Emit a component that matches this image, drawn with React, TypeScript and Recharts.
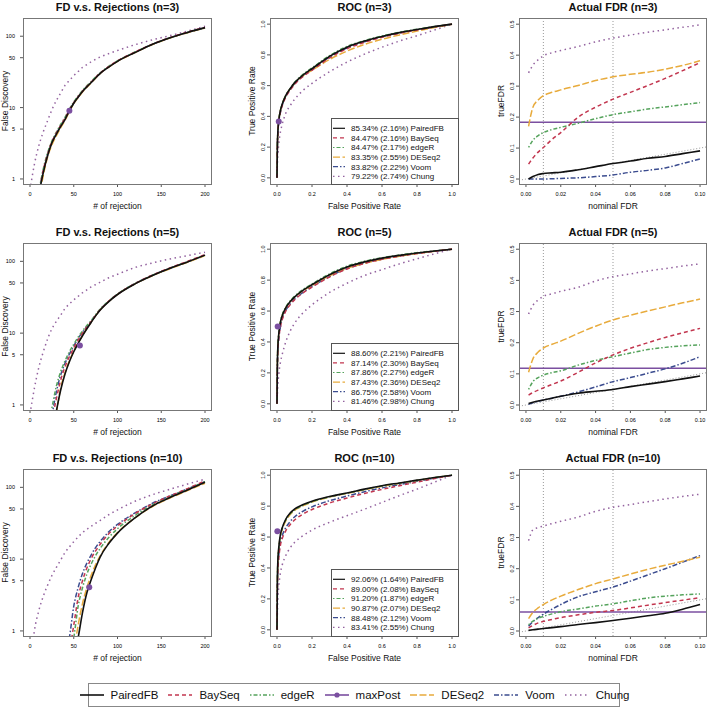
import React from 'react';
import { ComposedChart, Line, XAxis, YAxis, ReferenceLine, ReferenceDot } from 'recharts';

const FONT = "'Liberation Sans', Arial, Helvetica, sans-serif";

const methods = ['PairedFB', 'BaySeq', 'edgeR', 'DESeq2', 'Voom', 'Chung'];
const drawOrder = ['Chung', 'Voom', 'DESeq2', 'edgeR', 'BaySeq', 'PairedFB'];
const legendNames = ['PairedFB', 'BaySeq', 'edgeR', 'maxPost', 'DESeq2', 'Voom', 'Chung'];
const sampleSizes = [3, 5, 10];

const colors: Record<string, string> = {
  PairedFB: '#111111',
  BaySeq: '#c2364f',
  edgeR: '#55a35c',
  maxPost: '#7b4fa0',
  DESeq2: '#e8ab3c',
  Voom: '#3b4c8f',
  Chung: '#93629f',
};
const dashes: Record<string, string | undefined> = {
  PairedFB: undefined,
  BaySeq: '4 3',
  edgeR: '1.5 2 4 2',
  maxPost: undefined,
  DESeq2: '7 2.5',
  Voom: '5 2 1.5 2',
  Chung: '1.5 3.5',
};

type Series = Record<string, (number | null)[]>;

// FD v.s. rejections (log y)
const fdX = [0, 5, 10, 15, 20, 25, 30, 35, 40, 45, 50, 55, 60, 65, 70, 75, 80, 90, 100, 120, 140, 160, 180, 200];
const fdN3: Series = {
  PairedFB: [null, null, 0.6, 1.2, 2.1, 3.2, 4.2, 5.4, 6.8, 9.0, 11.5, 14, 16.8, 19.5, 22.5, 26, 30, 37, 44.5, 59, 77, 95, 113, 132],
  BaySeq: [null, null, 0.6, 1.3, 2.2, 3.3, 4.4, 5.6, 7.1, 9.2, 11.7, 14.2, 17, 19.8, 22.8, 26.4, 30.2, 37.5, 45, 60, 77.5, 95.5, 114, 133],
  edgeR: [null, null, 0.65, 1.35, 2.3, 3.4, 4.5, 5.8, 7.3, 9.5, 12, 14.6, 17.4, 20.2, 23.2, 26.8, 30.5, 37.8, 45.2, 60, 77, 95, 113, 131],
  DESeq2: [null, null, 0.5, 1.1, 2.0, 3.0, 4.0, 5.2, 6.6, 8.8, 11.3, 13.8, 16.5, 19.3, 22.3, 25.8, 29.8, 37, 44.5, 59, 76.5, 94.5, 112, 130],
  Voom: [null, null, 0.62, 1.25, 2.15, 3.25, 4.3, 5.5, 7.0, 9.1, 11.6, 14.1, 16.9, 19.7, 22.7, 26.3, 30.1, 37.3, 44.8, 59.5, 77, 95, 113, 132],
  Chung: [0.7, 1.6, 2.9, 4.5, 6.5, 9.3, 12.5, 16, 20.5, 24, 28, 32, 36.5, 40, 44, 47.5, 51, 57, 63, 76, 89, 102, 118, 138],
};
const fdN5: Series = {
  PairedFB: [null, null, null, null, null, null, 0.8, 1.6, 2.7, 4.0, 5.5, 7.2, 9.2, 11.5, 14.2, 17.4, 20.9, 27.5, 34.5, 48.5, 63.5, 80, 98, 122],
  BaySeq: [null, null, null, null, null, 0.6, 1.2, 2.2, 3.4, 4.7, 6.2, 8.0, 10.0, 12.1, 14.5, 17.6, 21, 27.8, 34.8, 49, 64.5, 81, 100, 124],
  edgeR: [null, null, null, null, null, 0.9, 1.8, 2.9, 4.1, 5.5, 7.0, 8.8, 10.7, 12.8, 15, 18, 21.5, 28, 35, 49, 64, 80, 99, 122],
  DESeq2: [null, null, null, null, null, null, 0.75, 1.7, 2.8, 4.1, 5.6, 7.3, 9.3, 11.6, 14.3, 17.5, 21, 27.6, 34.6, 48.5, 63, 79, 97, 120],
  Voom: [null, null, null, null, null, 0.7, 1.5, 2.6, 3.8, 5.1, 6.6, 8.4, 10.3, 12.4, 14.7, 17.8, 21.2, 27.8, 34.8, 49, 64, 80, 98, 121],
  Chung: [0.75, 1.7, 3.3, 5.4, 8.2, 11.5, 14.5, 17.8, 22, 25.5, 29, 32.5, 36.5, 40, 44, 47.5, 51, 59, 66, 82, 95, 108, 120, 134],
};
const fdN10: Series = {
  PairedFB: [null, null, null, null, null, null, null, null, null, null, 0.4, 0.8, 1.8, 3.4, 5.2, 7.6, 10.6, 16.5, 23, 37.5, 55, 72, 92, 118],
  BaySeq: [null, null, null, null, null, null, null, null, null, 0.5, 1.2, 2.9, 5.0, 7.5, 10.2, 13, 16, 22.5, 29, 43, 59, 76, 96, 123],
  edgeR: [null, null, null, null, null, null, null, null, null, 0.4, 0.8, 2.2, 4.0, 6.2, 8.6, 11.2, 14, 20, 26.5, 40.5, 57, 74, 94, 120],
  DESeq2: [null, null, null, null, null, null, null, null, null, null, 0.5, 1.2, 2.4, 4.0, 6.0, 8.4, 11, 17, 23.5, 37.5, 54, 71, 90, 114],
  Voom: [null, null, null, null, null, null, null, null, 0.4, 0.8, 2.2, 4.0, 6.3, 8.8, 11.5, 14.5, 17.5, 24, 30.5, 44, 60, 76, 95, 120],
  Chung: [0.3, 1.0, 1.9, 3.0, 4.3, 5.9, 7.6, 9.7, 12.3, 14.8, 17.5, 20.3, 23.4, 26, 28.8, 31.6, 34.5, 41.5, 48.5, 64, 79, 94, 111, 130],
};
const fdMaxPostX = [45, 57, 67.7];
const fdMaxPostY = [9, 6.7, 4.05];
const fdTicksX = [0, 50, 100, 150, 200];
const fdTicksY = [1, 5, 10, 50, 100];

// ROC
const rocX = [0, 0.002, 0.005, 0.01, 0.02, 0.03, 0.05, 0.075, 0.1, 0.15, 0.2, 0.3, 0.4, 0.5, 0.6, 0.7, 0.8, 0.9, 1];
const rocN3: Series = {
  PairedFB: [0, 0.2, 0.3, 0.37, 0.44, 0.48, 0.535, 0.58, 0.618, 0.67, 0.71, 0.79, 0.85, 0.89, 0.92, 0.945, 0.965, 0.984, 1],
  BaySeq: [0, 0.19, 0.29, 0.36, 0.43, 0.47, 0.525, 0.57, 0.607, 0.66, 0.7, 0.78, 0.84, 0.882, 0.914, 0.94, 0.962, 0.982, 1],
  edgeR: [0, 0.2, 0.3, 0.37, 0.44, 0.48, 0.535, 0.58, 0.62, 0.675, 0.715, 0.795, 0.855, 0.893, 0.923, 0.947, 0.967, 0.985, 1],
  DESeq2: [0, 0.2, 0.3, 0.37, 0.44, 0.48, 0.535, 0.578, 0.615, 0.665, 0.7, 0.77, 0.825, 0.868, 0.902, 0.93, 0.955, 0.978, 1],
  Voom: [0, 0.19, 0.29, 0.36, 0.43, 0.475, 0.53, 0.575, 0.612, 0.665, 0.705, 0.785, 0.845, 0.886, 0.918, 0.943, 0.964, 0.983, 1],
  Chung: [0, 0.08, 0.15, 0.22, 0.3, 0.35, 0.42, 0.47, 0.51, 0.57, 0.615, 0.69, 0.753, 0.805, 0.85, 0.89, 0.925, 0.962, 1],
};
const rocN5: Series = {
  PairedFB: [0, 0.25, 0.37, 0.45, 0.53, 0.57, 0.62, 0.66, 0.69, 0.735, 0.77, 0.835, 0.885, 0.918, 0.942, 0.96, 0.975, 0.988, 1],
  BaySeq: [0, 0.22, 0.34, 0.42, 0.5, 0.545, 0.6, 0.64, 0.672, 0.718, 0.755, 0.82, 0.872, 0.908, 0.935, 0.955, 0.972, 0.987, 1],
  edgeR: [0, 0.25, 0.37, 0.45, 0.53, 0.575, 0.625, 0.665, 0.695, 0.74, 0.775, 0.84, 0.89, 0.922, 0.945, 0.962, 0.977, 0.989, 1],
  DESeq2: [0, 0.25, 0.37, 0.45, 0.53, 0.57, 0.62, 0.66, 0.69, 0.733, 0.765, 0.828, 0.875, 0.908, 0.934, 0.955, 0.972, 0.987, 1],
  Voom: [0, 0.22, 0.34, 0.42, 0.5, 0.55, 0.605, 0.645, 0.677, 0.722, 0.758, 0.823, 0.875, 0.91, 0.936, 0.956, 0.973, 0.987, 1],
  Chung: [0, 0.06, 0.12, 0.19, 0.27, 0.32, 0.4, 0.47, 0.52, 0.59, 0.64, 0.72, 0.78, 0.83, 0.868, 0.905, 0.938, 0.97, 1],
};
const rocN10: Series = {
  PairedFB: [0, 0.3, 0.45, 0.53, 0.62, 0.66, 0.715, 0.755, 0.78, 0.81, 0.832, 0.862, 0.885, 0.91, 0.932, 0.95, 0.968, 0.985, 1],
  BaySeq: [0, 0.25, 0.38, 0.46, 0.55, 0.59, 0.64, 0.68, 0.71, 0.75, 0.778, 0.82, 0.852, 0.882, 0.908, 0.932, 0.955, 0.978, 1],
  edgeR: [0, 0.3, 0.44, 0.52, 0.61, 0.655, 0.71, 0.75, 0.775, 0.806, 0.828, 0.86, 0.884, 0.908, 0.93, 0.948, 0.966, 0.984, 1],
  DESeq2: [0, 0.3, 0.44, 0.52, 0.61, 0.65, 0.705, 0.745, 0.772, 0.803, 0.826, 0.858, 0.882, 0.906, 0.928, 0.947, 0.965, 0.983, 1],
  Voom: [0, 0.27, 0.4, 0.48, 0.57, 0.61, 0.66, 0.7, 0.73, 0.768, 0.795, 0.835, 0.865, 0.893, 0.918, 0.94, 0.96, 0.98, 1],
  Chung: [0, 0.1, 0.2, 0.28, 0.37, 0.42, 0.48, 0.53, 0.565, 0.61, 0.645, 0.695, 0.738, 0.78, 0.824, 0.868, 0.91, 0.955, 1],
};
const rocMaxPostX = [0.01, 0.004, 0.002];
const rocMaxPostY = [0.366, 0.5, 0.637];
const rocTicks = [0, 0.2, 0.4, 0.6, 0.8, 1];
const aucN3 = ['85.34% (2.16%) PairedFB', '84.47% (2.16%) BaySeq', '84.47% (2.17%) edgeR', '83.35% (2.55%) DESeq2', '83.82% (2.22%) Voom', '79.22% (2.74%) Chung'];
const aucN5 = ['88.60% (2.21%) PairedFB', '87.14% (2.30%) BaySeq', '87.86% (2.27%) edgeR', '87.43% (2.36%) DESeq2', '86.75% (2.58%) Voom', '81.46% (2.98%) Chung'];
const aucN10 = ['92.06% (1.64%) PairedFB', '89.00% (2.08%) BaySeq', '91.20% (1.87%) edgeR', '90.87% (2.07%) DESeq2', '88.48% (2.12%) Voom', '83.41% (2.55%) Chung'];

// actual FDR
const fdrX = [0.0015, 0.004, 0.007, 0.01, 0.015, 0.02, 0.03, 0.04, 0.05, 0.06, 0.07, 0.08, 0.09, 0.1];
const fdrN3: Series = {
  PairedFB: [0, 0.008, 0.015, 0.018, 0.02, 0.022, 0.03, 0.04, 0.05, 0.058, 0.067, 0.073, 0.082, 0.091],
  BaySeq: [0.048, 0.068, 0.087, 0.102, 0.128, 0.15, 0.2, 0.232, 0.258, 0.28, 0.302, 0.325, 0.35, 0.376],
  edgeR: [0.102, 0.125, 0.14, 0.15, 0.16, 0.167, 0.18, 0.195, 0.208, 0.217, 0.226, 0.233, 0.24, 0.247],
  DESeq2: [0.17, 0.232, 0.255, 0.269, 0.28, 0.288, 0.302, 0.318, 0.33, 0.338, 0.345, 0.355, 0.367, 0.382],
  Voom: [0, 0, 0, 0, 0.001, 0.002, 0.004, 0.008, 0.013, 0.022, 0.028, 0.036, 0.05, 0.065],
  Chung: [0.343, 0.368, 0.385, 0.398, 0.408, 0.415, 0.428, 0.443, 0.455, 0.465, 0.474, 0.482, 0.49, 0.498],
};
const fdrN5: Series = {
  PairedFB: [0.005, 0.009, 0.013, 0.016, 0.022, 0.028, 0.038, 0.044, 0.05, 0.059, 0.067, 0.075, 0.084, 0.093],
  BaySeq: [0.032, 0.04, 0.048, 0.055, 0.066, 0.077, 0.105, 0.135, 0.161, 0.182, 0.2, 0.217, 0.232, 0.246],
  edgeR: [0.05, 0.075, 0.088, 0.096, 0.104, 0.11, 0.128, 0.143, 0.155, 0.167, 0.178, 0.185, 0.19, 0.193],
  DESeq2: [0.105, 0.148, 0.17, 0.183, 0.195, 0.205, 0.23, 0.253, 0.273, 0.288, 0.302, 0.315, 0.328, 0.34],
  Voom: [0.002, 0.007, 0.012, 0.016, 0.022, 0.028, 0.042, 0.058, 0.075, 0.088, 0.102, 0.116, 0.134, 0.155],
  Chung: [0.292, 0.32, 0.337, 0.349, 0.357, 0.365, 0.378, 0.398, 0.412, 0.421, 0.43, 0.438, 0.446, 0.453],
};
const fdrN10: Series = {
  PairedFB: [0.002, 0.004, 0.006, 0.008, 0.011, 0.014, 0.021, 0.027, 0.034, 0.041, 0.049, 0.057, 0.07, 0.085],
  BaySeq: [0.01, 0.018, 0.026, 0.031, 0.037, 0.043, 0.052, 0.06, 0.066, 0.074, 0.083, 0.091, 0.099, 0.107],
  edgeR: [0.02, 0.032, 0.041, 0.047, 0.055, 0.062, 0.071, 0.08, 0.087, 0.097, 0.106, 0.112, 0.116, 0.119],
  DESeq2: [0.04, 0.06, 0.074, 0.085, 0.1, 0.112, 0.133, 0.152, 0.167, 0.183, 0.198, 0.211, 0.224, 0.237],
  Voom: [0.015, 0.03, 0.043, 0.054, 0.07, 0.085, 0.11, 0.126, 0.141, 0.16, 0.18, 0.2, 0.221, 0.242],
  Chung: [0.29, 0.325, 0.332, 0.337, 0.345, 0.352, 0.366, 0.384, 0.397, 0.406, 0.415, 0.424, 0.432, 0.439],
};
const fdrMaxPost = [0.183, 0.118, 0.061];
const fdrTicksX = [0, 0.02, 0.04, 0.06, 0.08, 0.1];
const fdrTicksY = [0, 0.1, 0.2, 0.3, 0.4, 0.5];
const fdrGuides = [0.01, 0.05];

// layout of the 3x3 grid (plot boxes, page pixels)
const colX = [23, 270, 519];
const colW = [189, 189, 188];
const rowY = [18, 243, 469];
const rowH = [166, 167, 167];
const YW = 30;
const XH = 20;

function buildRows(xs: number[], s: Series) {
  return xs.map((x, i) => {
    const row: Record<string, number | null> = { x };
    methods.forEach((m) => (row[m] = s[m][i]));
    return row;
  });
}

const TICK_FONT = 5.5;

const xTick = (fmt: (v: number) => string) => (props: any) => (
  <text x={props.x} y={props.y} dy={7} textAnchor="middle" fontSize={TICK_FONT} fill="#000" fontFamily={FONT}>
    {fmt(props.payload.value)}
  </text>
);
const yTickRot = (fmt: (v: number) => string) => (props: any) => (
  <text x={props.x} y={props.y} transform={`rotate(-90 ${props.x} ${props.y})`} textAnchor="middle" fontSize={TICK_FONT} fill="#000" fontFamily={FONT}>
    {fmt(props.payload.value)}
  </text>
);
const yTickFlat = (fmt: (v: number) => string) => (props: any) => (
  <text x={props.x} y={props.y} dy={2} textAnchor="end" fontSize={TICK_FONT} fill="#000" fontFamily={FONT}>
    {fmt(props.payload.value)}
  </text>
);

type PanelProps = {
  col: number;
  row: number;
  data: Record<string, number | null>[];
  xDomain: [number, number];
  yDomain: [number, number];
  xTicks: number[];
  yTicks: number[];
  xFmt: (v: number) => string;
  yFmt: (v: number) => string;
  logY?: boolean;
  flatY?: boolean;
  children?: React.ReactNode;
};

function Panel(p: PanelProps) {
  const left = colX[p.col];
  const top = rowY[p.row];
  const w = colW[p.col];
  const h = rowH[p.row];
  return (
    <div style={{ position: 'absolute', left: left - YW, top }}>
      <ComposedChart width={w + YW} height={h + XH} data={p.data} margin={{ top: 0, right: 0, bottom: 0, left: 0 }}>
        <XAxis
          dataKey="x"
          type="number"
          domain={p.xDomain}
          ticks={p.xTicks}
          interval={0}
          allowDataOverflow
          axisLine={false}
          tickSize={3}
          tickMargin={2}
          tickLine={{ stroke: '#555' }}
          height={XH}
          tick={xTick(p.xFmt)}
        />
        <YAxis
          type="number"
          scale={p.logY ? 'log' : 'auto'}
          domain={p.yDomain}
          ticks={p.yTicks}
          interval={0}
          allowDataOverflow
          axisLine={false}
          tickSize={3}
          tickMargin={p.flatY ? 5 : 2}
          tickLine={{ stroke: '#555' }}
          width={YW}
          tick={p.flatY ? yTickFlat(p.yFmt) : yTickRot(p.yFmt)}
        />
        {p.children}
        {drawOrder.map((m) => (
          <Line
            key={m}
            dataKey={m}
            type="monotone"
            stroke={colors[m]}
            strokeWidth={m === 'PairedFB' ? 1.6 : 1.5}
            strokeDasharray={dashes[m]}
            dot={false}
            connectNulls={false}
            isAnimationActive={false}
          />
        ))}
      </ComposedChart>
    </div>
  );
}

const fdSets = [fdN3, fdN5, fdN10];
const rocSets = [rocN3, rocN5, rocN10];
const fdrSets = [fdrN3, fdrN5, fdrN10];
const aucSets = [aucN3, aucN5, aucN10];

const titles = [
  (n: number) => `FD v.s. Rejections (n=${n})`,
  (n: number) => `ROC (n=${n})`,
  (n: number) => `Actual FDR (n=${n})`,
];
const xLabels = ['# of rejection', 'False Positive Rate', 'nominal FDR'];
const yLabels = ['False Discovery', 'True Positive Rate', 'trueFDR'];

function Overlay() {
  return (
    <svg width={708} height={709} style={{ position: 'absolute', left: 0, top: 0, pointerEvents: 'none' }} fontFamily={FONT}>
      {sampleSizes.map((n, r) =>
        [0, 1, 2].map((c) => {
          const bx = colX[c];
          const by = rowY[r];
          const w = colW[c];
          const h = rowH[r];
          const ylx = bx - 15;
          const yly = by + h / 2;
          return (
            <g key={`${r}-${c}`}>
              <rect x={bx + 0.5} y={by + 0.5} width={w - 1} height={h} fill="none" stroke="#777" strokeWidth={1} />
              <text x={bx + w / 2} y={by - 7.5} textAnchor="middle" fontSize={11} fontWeight="bold" fill="#111">
                {titles[c](n)}
              </text>
              <text x={bx + w / 2} y={by + h + 25} textAnchor="middle" fontSize={8.5} fill="#111">
                {xLabels[c]}
              </text>
              <text x={ylx} y={yly} transform={`rotate(-90 ${ylx} ${yly})`} textAnchor="middle" fontSize={8.5} fill="#111">
                {yLabels[c]}
              </text>
            </g>
          );
        })
      )}
      {sampleSizes.map((n, r) => {
        const bx = colX[1];
        const by = rowY[r];
        const lx = bx + 61;
        const ly = by + 100;
        return (
          <g key={`leg-${n}`}>
            <rect x={lx + 0.5} y={ly + 0.5} width={bx + colW[1] - lx - 1} height={rowH[r] - 100} fill="#fff" stroke="#555" />
            {aucSets[r].map((t, i) => {
              const cy = ly + 10.3 + i * 9.6;
              const m = methods[i];
              return (
                <g key={t}>
                  <line x1={lx + 2} x2={lx + 14} y1={cy} y2={cy} stroke={colors[m]} strokeWidth={1.2} strokeDasharray={dashes[m]} />
                  <text x={lx + 20} y={cy + 2.9} fontSize={8} fill="#111">
                    {t}
                  </text>
                </g>
              );
            })}
          </g>
        );
      })}
    </svg>
  );
}

function BottomLegend() {
  return (
    <div
      style={{
        position: 'absolute',
        left: 88,
        top: 683,
        width: 530,
        height: 22,
        border: '1px solid #888',
        display: 'flex',
        alignItems: 'center',
        justifyContent: 'center',
        gap: 9,
        fontFamily: FONT,
        fontSize: 11.5,
        color: '#111',
      }}
    >
      {legendNames.map((m) => (
        <div key={m} style={{ display: 'flex', alignItems: 'center' }}>
          <svg width={26} height={10}>
            <line x1={1} x2={25} y1={5} y2={5} stroke={colors[m]} strokeWidth={1.6} strokeDasharray={dashes[m]} />
            {m === 'maxPost' && <circle cx={13} cy={5} r={2.6} fill={colors[m]} />}
          </svg>
          <span style={{ marginLeft: 6 }}>{m}</span>
        </div>
      ))}
    </div>
  );
}

export default function App() {
  return (
    <div style={{ position: 'absolute', left: 0, top: 0, width: 708, height: 709, background: '#fff', overflow: 'hidden' }}>
      {sampleSizes.map((n, r) => (
        <React.Fragment key={n}>
          <Panel
            col={0}
            row={r}
            data={buildRows(fdX, fdSets[r])}
            xDomain={[-8, 208]}
            yDomain={[0.85, 180]}
            xTicks={fdTicksX}
            yTicks={fdTicksY}
            xFmt={(v) => String(v)}
            yFmt={(v) => String(v)}
            logY
            flatY
          >
            <ReferenceDot x={fdMaxPostX[r]} y={fdMaxPostY[r]} r={3} fill={colors.maxPost} stroke="none" />
          </Panel>
          <Panel
            col={1}
            row={r}
            data={buildRows(rocX, rocSets[r])}
            xDomain={[-0.04, 1.04]}
            yDomain={[-0.04, 1.04]}
            xTicks={rocTicks}
            yTicks={rocTicks}
            xFmt={(v) => v.toFixed(1)}
            yFmt={(v) => v.toFixed(1)}
          >
            <ReferenceDot x={rocMaxPostX[r]} y={rocMaxPostY[r]} r={3} fill={colors.maxPost} stroke="none" />
          </Panel>
          <Panel
            col={2}
            row={r}
            data={buildRows(fdrX, fdrSets[r])}
            xDomain={[-0.004, 0.104]}
            yDomain={[-0.016, 0.52]}
            xTicks={fdrTicksX}
            yTicks={fdrTicksY}
            xFmt={(v) => v.toFixed(2)}
            yFmt={(v) => v.toFixed(1)}
          >
            {fdrGuides.map((g) => (
              <ReferenceLine key={g} x={g} stroke="#999" strokeDasharray="1 2" />
            ))}
            <ReferenceLine
              segment={[
                { x: -0.004, y: -0.004 },
                { x: 0.104, y: 0.104 },
              ]}
              stroke="#999"
              strokeDasharray="1 2"
            />
            <ReferenceLine y={fdrMaxPost[r]} stroke={colors.maxPost} strokeWidth={1.5} />
          </Panel>
        </React.Fragment>
      ))}
      <Overlay />
      <BottomLegend />
    </div>
  );
}
